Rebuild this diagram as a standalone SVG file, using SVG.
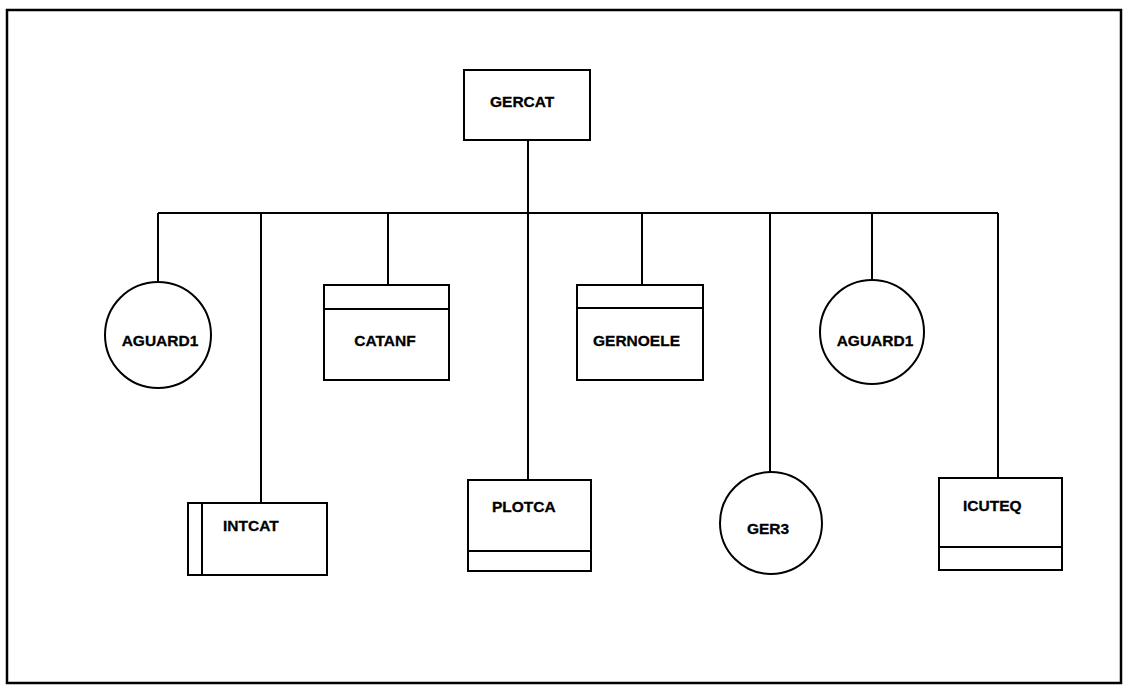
<svg xmlns="http://www.w3.org/2000/svg" width="1128" height="689" viewBox="0 0 1128 689">
<style>
.s{fill:#fff;stroke:#000;stroke-width:2}
.c{fill:none;stroke:#000;stroke-width:2}
.t{font-family:"Liberation Sans",Arial,sans-serif;font-weight:bold;font-size:15.5px;fill:#000;stroke:#000;stroke-width:0.3}
</style>
<rect width="1128" height="689" fill="#fff"/>
<rect x="7" y="10" width="1114" height="673" fill="none" stroke="#000" stroke-width="2.5"/>
<g id="connectors">
<path class="c" d="M528 140V480M158 213H998M158 213V282M261 213V503M388 213V285M642 213V285M770 213V472M872 213V280M998 213V478"/>
</g>
<g id="GERCAT"><rect class="s" x="464" y="70" width="126" height="70"/><text class="t" x="490" y="107">GERCAT</text></g>
<g id="AGUARD1_a"><circle class="s" cx="158" cy="335" r="53"/><text class="t" x="160" y="346" text-anchor="middle">AGUARD1</text></g>
<g id="INTCAT"><rect class="s" x="188" y="503" width="139" height="72"/><line class="c" x1="202" y1="503" x2="202" y2="575"/><text class="t" x="223" y="531">INTCAT</text></g>
<g id="CATANF"><rect class="s" x="324" y="285" width="125" height="95"/><line class="c" x1="324" y1="309" x2="449" y2="309"/><text class="t" x="385" y="346" text-anchor="middle">CATANF</text></g>
<g id="PLOTCA"><rect class="s" x="468" y="480" width="123" height="91"/><line class="c" x1="468" y1="551" x2="591" y2="551"/><text class="t" x="492" y="512">PLOTCA</text></g>
<g id="GERNOELE"><rect class="s" x="577" y="285" width="126" height="95"/><line class="c" x1="577" y1="308" x2="703" y2="308"/><text class="t" x="593" y="346">GERNOELE</text></g>
<g id="GER3"><circle class="s" cx="771" cy="523" r="51"/><text class="t" x="768" y="534" text-anchor="middle">GER3</text></g>
<g id="AGUARD1_b"><circle class="s" cx="872" cy="332" r="52"/><text class="t" x="875" y="346" text-anchor="middle">AGUARD1</text></g>
<g id="ICUTEQ"><rect class="s" x="939" y="478" width="123" height="92"/><line class="c" x1="939" y1="547" x2="1062" y2="547"/><text class="t" x="963" y="511">ICUTEQ</text></g>
</svg>
